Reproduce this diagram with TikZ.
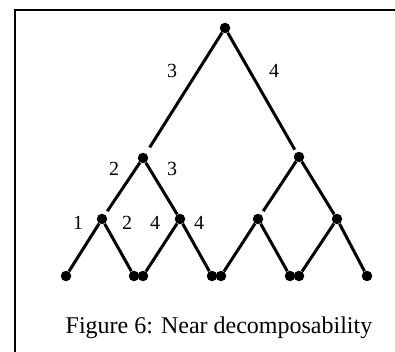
\documentclass[tikz,border=0pt]{standalone}
\usepackage{fontspec}
\setmainfont{Liberation Serif}
\begin{document}
\begin{tikzpicture}[x=1pt,y=-1pt,
  dot/.style={circle,fill=black,inner sep=0pt,minimum size=10.5pt},
  edge/.style={line width=3pt,line cap=butt},
  lbl/.style={inner sep=0pt,font=\fontsize{20}{20}\selectfont},
  captext/.style={inner sep=0pt,anchor=base,font=\fontsize{24}{24}\selectfont}]
\useasboundingbox (0,0) rectangle (395,352);
% frame
\coordinate (fa) at (15,352);
\coordinate (fb) at (15,10);
\coordinate (fc) at (395,10);
\draw[line width=2.2pt] (fa) -- (fb) -- (fc);
% nodes
\node[dot] (r) at (225,28) {};
\node[dot] (l) at (143,158) {};
\node[dot] (rr) at (299,157) {};
\node[dot] (a) at (102,219) {};
\node[dot] (b) at (180,219) {};
\node[dot] (c) at (258,219) {};
\node[dot] (d) at (337,219) {};
\node[dot] (x1) at (66,276) {};
\node[dot] (x2) at (134,276) {};
\node[dot] (x3) at (143,276) {};
\node[dot] (x4) at (212,276) {};
\node[dot] (x5) at (221,276) {};
\node[dot] (x6) at (290,276) {};
\node[dot] (x7) at (299,276) {};
\node[dot] (x8) at (367,276) {};
% edges
\draw[edge,shorten >=7pt] (r) -- (l);
\draw[edge,shorten >=3pt] (r) -- (rr);
\draw[edge,shorten >=4pt] (l) -- (a);
\draw[edge] (l) -- (b);
\draw[edge,shorten >=4pt] (rr) -- (c);
\draw[edge] (rr) -- (d);
\draw[edge] (a) -- (x1);
\draw[edge] (a) -- (x2);
\draw[edge] (b) -- (x3);
\draw[edge] (b) -- (x4);
\draw[edge] (c) -- (x5);
\draw[edge] (c) -- (x6);
\draw[edge] (d) -- (x7);
\draw[edge] (d) -- (x8);
% labels
\node[lbl] (t1) at (172,71) {3};
\node[lbl] (t2) at (274,71) {4};
\node[lbl] (t3) at (114,169) {2};
\node[lbl] (t4) at (172,169) {3};
\node[lbl] (t5) at (78,223) {1};
\node[lbl] (t6) at (127,223) {2};
\node[lbl] (t7) at (155,223) {4};
\node[lbl] (t8) at (199,223) {4};
% caption
\node[captext] (capt) at (219,333) {Figure 6: Near decomposability};
\end{tikzpicture}
\end{document}
